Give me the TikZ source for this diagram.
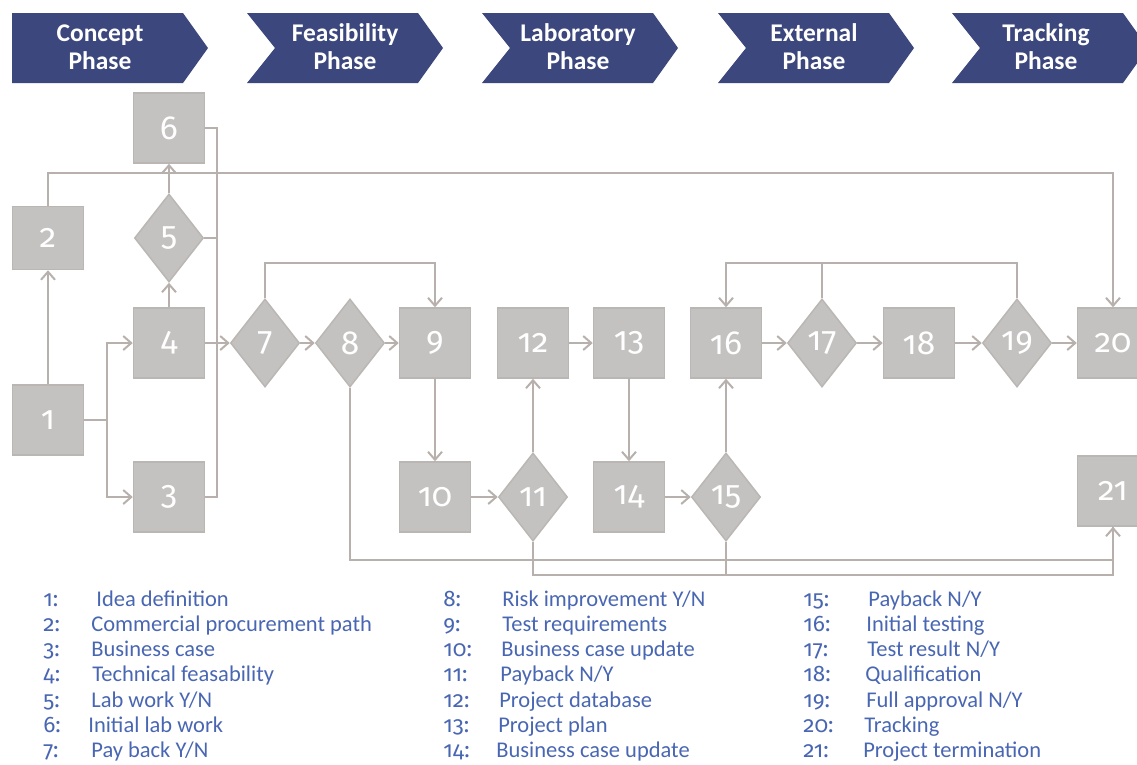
\documentclass[tikz,border=0pt]{standalone}
\usepackage{fontspec}
\setmainfont{Carlito}
\newfontfamily\digitfont{Fira Sans}[Numbers=OldStyle]
\usepackage{tikz}
\usetikzlibrary{arrows.meta}
\usetikzlibrary{shapes.geometric}

\definecolor{phaseblue}{RGB}{59,71,125}
\definecolor{boxgray}{RGB}{196,194,192}
\definecolor{boxedge}{RGB}{186,182,179}
\definecolor{linegray}{RGB}{184,176,172}
\definecolor{legendblue}{RGB}{72,102,178}

\begin{document}
\begin{tikzpicture}[x=0.2mm,y=-0.2mm,
  >={Straight Barb[length=1.6mm,width=2.8mm]},
  box/.style={draw=boxedge,fill=boxgray,line width=0.3mm,minimum width=14.2mm,
    minimum height=14mm,inner sep=0pt,text=white,font=\digitfont\fontsize{19}{19}\selectfont},
  decision/.style={diamond,draw=boxedge,fill=boxgray,line width=0.3mm,minimum width=13.8mm,
    minimum height=17.6mm,inner sep=0pt,text=white,font=\digitfont\fontsize{19}{19}\selectfont},
  phase/.style={text=white,align=center,font=\bfseries\fontsize{14.5}{16}\selectfont},
  legend/.style={anchor=base west,text=legendblue,inner sep=0pt,font=\fontsize{12.8}{13}\selectfont}]
\useasboundingbox (0,0) rectangle (1137,764);

% phase chevrons
\foreach \x/\notch/\cx/\name in {12/0/100/Concept,247/28/345/Feasibility,482/28/578/Laboratory,718/28/814/External,952/28/1046/Tracking}
  {
  \fill[phaseblue] (\x,13) -- ++(171,0) -- ++(25,35) -- ++(-25,35) -- (\x,83) -- ++(\notch,-35) -- cycle;
  \node[phase] (\name) at (\cx,47) {\name\\Phase};
  }

% steps
\node[box] (n1) at (48,420) {1};
\node[box,minimum height=12.6mm] (n2) at (48,238) {2};
\node[box] (n3) at (169,497) {3};
\node[box] (n4) at (169,343) {4};
\node[decision] (n5) at (169,238) {5};
\node[box] (n6) at (169,128) {6};
\node[decision] (n7) at (265,343) {7};
\node[decision] (n8) at (350,343) {8};
\node[box] (n9) at (435,343) {9};
\node[box] (n10) at (435,497) {10};
\node[decision] (n11) at (533,497) {11};
\node[box] (n12) at (533,343) {12};
\node[box] (n13) at (629,343) {13};
\node[box] (n14) at (629,497) {14};
\node[decision] (n15) at (726,497) {15};
\node[box] (n16) at (726,343) {16};
\node[decision] (n17) at (822,343) {17};
\node[box] (n18) at (919,343) {18};
\node[decision] (n19) at (1017,343) {19};
\node[box] (n20) at (1113,343) {20};
\node[box] (n21) at (1113,491) {21};

% rails
\coordinate (fork) at (107,420);
\coordinate (merge) at (217,0);
\coordinate (toprail) at (0,173);
\coordinate (loop) at (0,263);
\coordinate (lowrail) at (0,560);
\coordinate (baserail) at (0,575);

\begin{scope}[draw=linegray,line width=0.4mm]
\draw[->] (n1) -- (n2);
\draw (n1) -- (fork);
\draw[->] (fork) |- (n4);
\draw[->] (fork) |- (n3);
\draw[->] (n2.north) -- (n2.north |- toprail) -| (n20.north);
\draw[->] (n4) -- (n5);
\draw[->] (n5) -- (n6);
\draw (n6.east) -- (n6.east -| merge) -- (n3.east -| merge) -- (n3.east);
\draw (n5.east) -- (n5.east -| merge);
\draw[->] (n4) -- (n7);
\draw[->] (n7) -- (n8);
\draw[->] (n8) -- (n9);
\draw[->] (n7.north) -- (n7.north |- loop) -| (n9.north);
\draw[->] (n9) -- (n10);
\draw[->] (n10) -- (n11);
\draw[->] (n11) -- (n12);
\draw[->] (n12) -- (n13);
\draw[->] (n13) -- (n14);
\draw[->] (n14) -- (n15);
\draw[->] (n15) -- (n16);
\draw[->] (n16) -- (n17);
\draw[->] (n17) -- (n18);
\draw[->] (n18) -- (n19);
\draw[->] (n19) -- (n20);
\draw[->] (n19.north) -- (n19.north |- loop) -| (n16.north);
\draw (n17.north) -- (n17.north |- loop);
\draw[->] (n8.south) -- (n8.south |- lowrail) -| (n21.south);
\draw (n11.south) -- (n11.south |- baserail) -| (n21.south);
\draw (n15.south) -- (n15.south |- baserail);
\end{scope}

% legend
\foreach \n/\dx/\txt [count=\r from 0] in {1/96/Idea definition,2/91/Commercial procurement path,3/91/Business case,4/92/Technical feasability,5/91/{Lab work Y/N},6/88/Initial lab work,7/91/{Pay back Y/N}}
  {
  \node[legend] (num\n) at (43,606+25.3*\r) {\digitfont\n:};
  \node[legend] (item\n) at (\dx,606+25.3*\r) {\txt};
  }
\foreach \n/\dx/\txt [count=\r from 0] in {8/502/{Risk improvement Y/N},9/502/Test requirements,10/501/Business case update,11/500/{Payback N/Y},12/499/Project database,13/498/Project plan,14/496/Business case update}
  {
  \node[legend] (num\n) at (443,606+25.3*\r) {\digitfont\n:};
  \node[legend] (item\n) at (\dx,606+25.3*\r) {\txt};
  }
\foreach \n/\dx/\txt [count=\r from 0] in {15/868/{Payback N/Y},16/866/Initial testing,17/867/{Test result N/Y},18/865/Qualification,19/866/{Full approval N/Y},20/864/Tracking,21/863/Project termination}
  {
  \node[legend] (num\n) at (803,606+25.3*\r) {\digitfont\n:};
  \node[legend] (item\n) at (\dx,606+25.3*\r) {\txt};
  }
\end{tikzpicture}
\end{document}
